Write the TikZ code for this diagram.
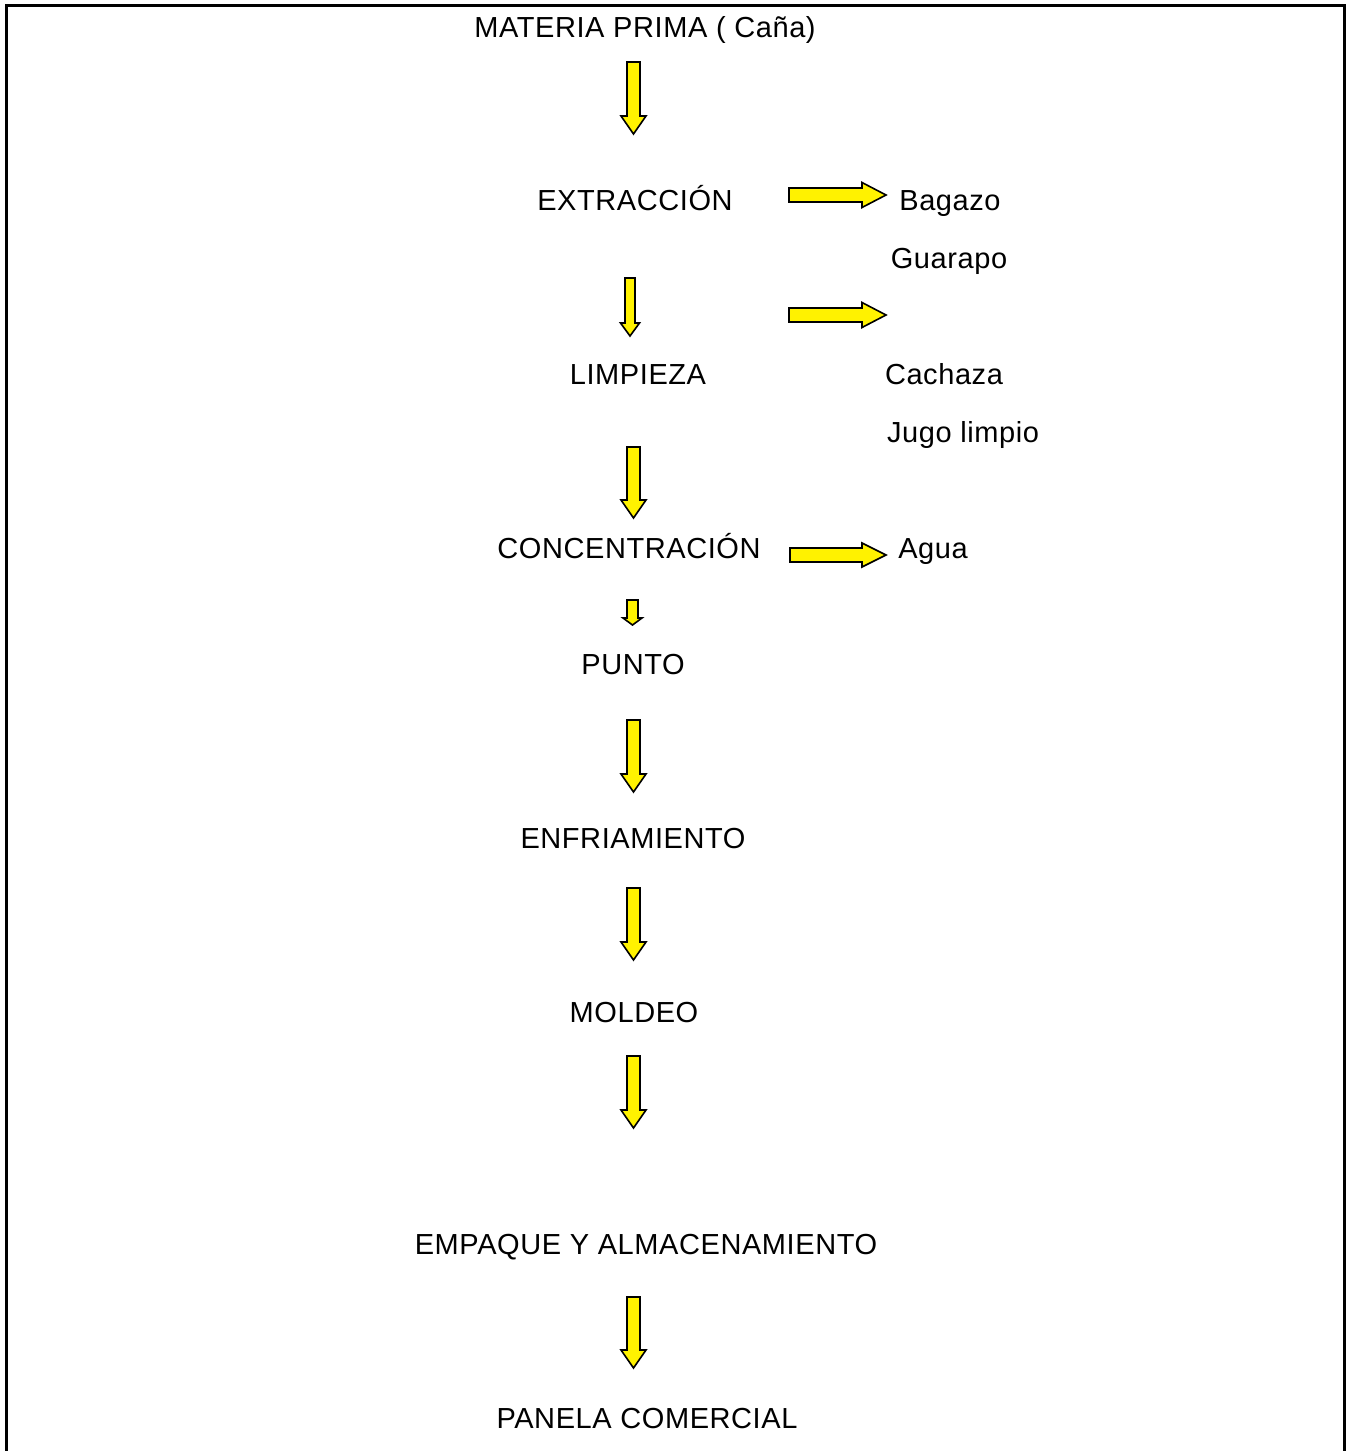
\documentclass[tikz,border=0pt]{standalone}
\usepackage{fontspec}
\setmainfont{Liberation Sans}[LetterSpace=2]
\newcommand\DArr[6]{% x, top, headstart, tip, shaft half, head half
  \draw[blockarrow] (#1-#5,-#2) -- (#1+#5,-#2) -- (#1+#5,-#3) -- (#1+#6,-#3) -- (#1,-#4) -- (#1-#6,-#3) -- (#1-#5,-#3) -- cycle;}
\newcommand\RArr[6]{% y, left, headstart, tip, shaft half, head half
  \draw[blockarrow] (#2,-#1+#5) -- (#3,-#1+#5) -- (#3,-#1+#6) -- (#4,-#1) -- (#3,-#1-#6) -- (#3,-#1-#5) -- (#2,-#1-#5) -- cycle;}
\begin{document}
\begin{tikzpicture}[x=1pt,y=1pt,
  lbl/.style={anchor=base,inner sep=0pt,font=\fontsize{29}{35}\selectfont},
  blockarrow/.style={fill=yellow,draw=black,line width=1.6pt,line join=miter}]
\useasboundingbox (0,0) rectangle (1353,-1451);
\draw[line width=3pt] (6.5,-1451) -- (6.5,-5.5) -- (1344.5,-5.5) -- (1344.5,-1451);
% labels
\node[lbl] (mp) at (645,-37) {MATERIA PRIMA ( Caña)};
\node[lbl] (ext) at (635,-210) {EXTRACCIÓN};
\node[lbl] (bag) at (950,-210) {Bagazo};
\node[lbl] (gua) at (949,-268) {Guarapo};
\node[lbl] (lim) at (638,-384) {LIMPIEZA};
\node[lbl] (cac) at (944,-384) {Cachaza};
\node[lbl] (jug) at (963,-442) {Jugo limpio};
\node[lbl] (con) at (629,-558) {CONCENTRACIÓN};
\node[lbl] (agu) at (933,-558) {Agua};
\node[lbl] (pun) at (633,-674) {PUNTO};
\node[lbl] (enf) at (633,-848) {ENFRIAMIENTO};
\node[lbl] (mol) at (634,-1022) {MOLDEO};
\node[lbl] (emp) at (646,-1254) {EMPAQUE Y ALMACENAMIENTO};
\node[lbl] (pan) at (647,-1428) {PANELA COMERCIAL};
% down arrows
\DArr{633.5}{62}{116}{134}{6.5}{12.5}
\DArr{630}{278}{323}{336}{5}{9.5}
\DArr{633.5}{447}{500}{518}{6.5}{12.5}
\DArr{632.5}{600}{618}{625}{5.5}{9.5}
\DArr{633.5}{720}{774}{792}{6.5}{12.5}
\DArr{633.5}{888}{942}{960}{6.5}{12.5}
\DArr{633.5}{1056}{1110}{1128}{6.5}{12.5}
\DArr{633.5}{1297}{1350}{1368}{6.5}{12.5}
% right arrows
\RArr{195}{789}{862}{886}{7}{12.5}
\RArr{315}{789}{862}{886}{7}{12.5}
\RArr{555}{790}{862}{886}{7}{12}
\end{tikzpicture}
\end{document}
